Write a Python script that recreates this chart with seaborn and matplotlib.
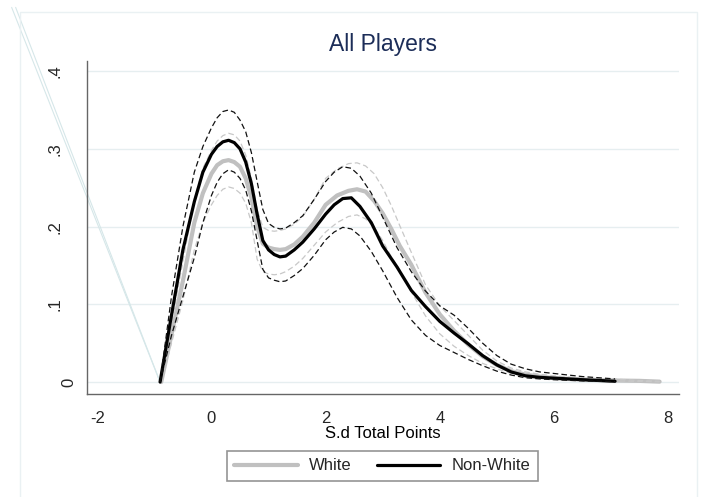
import matplotlib
matplotlib.use("Agg")
import matplotlib.pyplot as plt
import matplotlib.transforms as mtransforms
from matplotlib.patches import Rectangle
from matplotlib.lines import Line2D
import seaborn as sns
import pandas as pd

sns.set_theme(style="white")
plt.rcParams["font.family"] = ["Liberation Sans", "DejaVu Sans"]

# Kernel density of standardised total points, by group (estimate and 95% CI)
white_x = [-0.88, -0.7, -0.5, -0.3, -0.15, 0.0, 0.1, 0.2, 0.3, 0.4, 0.5, 0.6, 0.7, 0.8, 0.9,
           1.0, 1.1, 1.2, 1.3, 1.45, 1.6, 1.8, 2.0, 2.2, 2.4, 2.55, 2.7, 2.85, 3.0, 3.15,
           3.3, 3.5, 3.75, 4.0, 4.25, 4.5, 4.75, 5.0, 5.25, 5.5, 5.75, 6.0, 6.5, 7.0, 7.5,
           7.85]
white_est = [0.0, 0.061, 0.13, 0.205, 0.243, 0.268, 0.279, 0.284, 0.2855, 0.283, 0.277,
             0.262, 0.237, 0.200, 0.178, 0.173, 0.171, 0.170, 0.171, 0.177, 0.187, 0.205,
             0.228, 0.240, 0.246, 0.248, 0.245, 0.233, 0.217, 0.197, 0.175, 0.151, 0.115,
             0.087, 0.066, 0.048, 0.033, 0.022, 0.014, 0.0095, 0.007, 0.005, 0.003, 0.002,
             0.0015, 0.0005]
white_hi = [0.0, 0.075, 0.155, 0.235, 0.275, 0.298, 0.310, 0.317, 0.320, 0.318, 0.310,
            0.292, 0.262, 0.222, 0.199, 0.195, 0.194, 0.195, 0.197, 0.203, 0.213, 0.235,
            0.262, 0.274, 0.281, 0.282, 0.278, 0.268, 0.250, 0.227, 0.201, 0.167, 0.125,
            0.098, 0.079, 0.060, 0.041, 0.027, 0.018, 0.013, 0.010, 0.008, 0.005, 0.004,
            0.002, 0.001]
white_lo = [0.0, 0.050, 0.105, 0.170, 0.205, 0.228, 0.240, 0.248, 0.251, 0.249, 0.243,
            0.230, 0.205, 0.158, 0.142, 0.139, 0.138, 0.139, 0.142, 0.149, 0.159, 0.176,
            0.193, 0.205, 0.213, 0.215, 0.210, 0.199, 0.182, 0.161, 0.144, 0.116, 0.085,
            0.062, 0.046, 0.034, 0.024, 0.017, 0.011, 0.007, 0.005, 0.004, 0.0025, 0.0015,
            0.0008, 0.0003]

nonwhite_x = [-0.9, -0.7, -0.5, -0.3, -0.15, 0.0, 0.1, 0.2, 0.3, 0.4, 0.5, 0.6, 0.7, 0.8,
              0.9, 1.0, 1.1, 1.2, 1.3, 1.45, 1.6, 1.8, 2.0, 2.15, 2.3, 2.45, 2.6, 2.8, 3.0,
              3.25, 3.5, 3.75, 4.0, 4.25, 4.5, 4.75, 5.0, 5.25, 5.5, 5.75, 6.0, 6.5, 7.07]
nonwhite_est = [0.0, 0.086, 0.170, 0.232, 0.270, 0.293, 0.303, 0.309, 0.311, 0.308, 0.300,
                0.283, 0.255, 0.216, 0.182, 0.170, 0.164, 0.161, 0.162, 0.170, 0.180, 0.197,
                0.216, 0.228, 0.236, 0.237, 0.226, 0.205, 0.175, 0.148, 0.118, 0.097, 0.078,
                0.063, 0.049, 0.034, 0.022, 0.013, 0.008, 0.006, 0.005, 0.003, 0.001]
nonwhite_hi = [0.0, 0.110, 0.200, 0.270, 0.303, 0.327, 0.340, 0.348, 0.350, 0.347, 0.337,
               0.322, 0.295, 0.258, 0.222, 0.204, 0.199, 0.197, 0.198, 0.205, 0.214, 0.235,
               0.258, 0.270, 0.277, 0.275, 0.265, 0.243, 0.212, 0.173, 0.142, 0.117, 0.098,
               0.086, 0.069, 0.050, 0.034, 0.023, 0.017, 0.013, 0.011, 0.007, 0.004]
nonwhite_lo = [0.0, 0.060, 0.110, 0.160, 0.205, 0.240, 0.257, 0.268, 0.273, 0.270, 0.262,
               0.247, 0.220, 0.182, 0.145, 0.134, 0.131, 0.129, 0.130, 0.137, 0.146, 0.163,
               0.183, 0.193, 0.199, 0.197, 0.188, 0.168, 0.143, 0.109, 0.080, 0.060, 0.047,
               0.038, 0.029, 0.021, 0.014, 0.009, 0.0055, 0.004, 0.003, 0.0015, 0.0005]

# stray connector segments running off the plot region
stray_x = [[-3.50, -0.90], [-3.43, -0.90]]
stray_y = [[0.482, 0.0], [0.482, 0.0]]

y_ticks = [0, 0.1, 0.2, 0.3, 0.4]
y_labels = ["0", ".1", ".2", ".3", ".4"]
x_ticks = [-2, 0, 2, 4, 6, 8]
x_labels = ["-2", "0", "2", "4", "6", "8"]

fig = plt.figure(figsize=(7.04, 4.97), dpi=100)
fig.patch.set_facecolor("white")
fig.add_artist(Rectangle((20 / 704, -0.01), 677 / 704, 1 - 12 / 497 + 0.01,
                         transform=fig.transFigure, fill=False,
                         edgecolor="#eaf1f3", lw=1.0))
ax = fig.add_axes([87 / 704, 1 - 394 / 497, 592 / 704, (394 - 61) / 497])

for xs, ys in zip(stray_x, stray_y):
    ax.plot(xs, ys, color="#d6e7e9", lw=0.8, clip_on=False, zorder=1)

GRAY = "#c0c0c0"
dash = (0, (4.5, 2.5))


def draw(x, y, color, lw, ls):
    df = pd.DataFrame({"x": x, "y": y})
    sns.lineplot(data=df, x="x", y="y", ax=ax, color=color, lw=lw, linestyle=ls,
                 sort=False, estimator=None, zorder=3,
                 solid_joinstyle="round", dash_joinstyle="round")


draw(white_x, white_est, GRAY, 3.0, "-")
draw(white_x, white_hi, "#c8c8c8", 0.9, dash)
draw(white_x, white_lo, "#c8c8c8", 0.9, dash)
draw(nonwhite_x, nonwhite_est, "black", 2.3, "-")
draw(nonwhite_x, nonwhite_hi, "#111111", 0.9, dash)
draw(nonwhite_x, nonwhite_lo, "#111111", 0.9, dash)

ax.set_xlim(-2.18, 8.19)
ax.set_ylim(-0.0154, 0.413)
ax.set_yticks(y_ticks)
ax.set_yticklabels(y_labels, rotation=90, va="center", fontsize=12)
ax.set_xticks(x_ticks)
ax.set_xticklabels(x_labels, fontsize=12)
ax.tick_params(axis="y", direction="out", length=6, width=1, color="#666666", pad=2)
ax.tick_params(axis="x", direction="out", length=6, width=1, color="#666666", pad=6)
for lab in ax.get_yticklabels():
    if lab.get_text() != "0":
        lab.set_transform(lab.get_transform() +
                          mtransforms.ScaledTranslation(-13 / 100, 0, fig.dpi_scale_trans))
ax.grid(axis="y", color="#e6eef0", lw=1.0)
ax.grid(axis="x", visible=False)
for s in ["top", "right"]:
    ax.spines[s].set_visible(False)
for s in ["left", "bottom"]:
    ax.spines[s].set_color("#666666")
    ax.spines[s].set_linewidth(1.0)
ax.set_facecolor("white")

ax.set_xlabel("S.d Total Points", fontsize=12, labelpad=0, color="black")
ax.set_ylabel("")
ax.set_title("All Players", fontsize=16.5, color="#1c2d58", pad=7)

handles = [Line2D([], [], color=GRAY, lw=3.0), Line2D([], [], color="black", lw=2.3)]
leg = fig.legend(handles, ["White", "Non-White"], loc="center",
                 bbox_to_anchor=(382.5 / 704, 1 - 466 / 497), ncol=2, fontsize=12,
                 frameon=True, fancybox=False, handlelength=3.8, handletextpad=0.7,
                 columnspacing=1.5, borderpad=0.45, borderaxespad=0)
leg.get_frame().set_edgecolor("#7a7a7a")
leg.get_frame().set_linewidth(1.2)

fig.savefig("out.png", dpi=100, facecolor="white")
